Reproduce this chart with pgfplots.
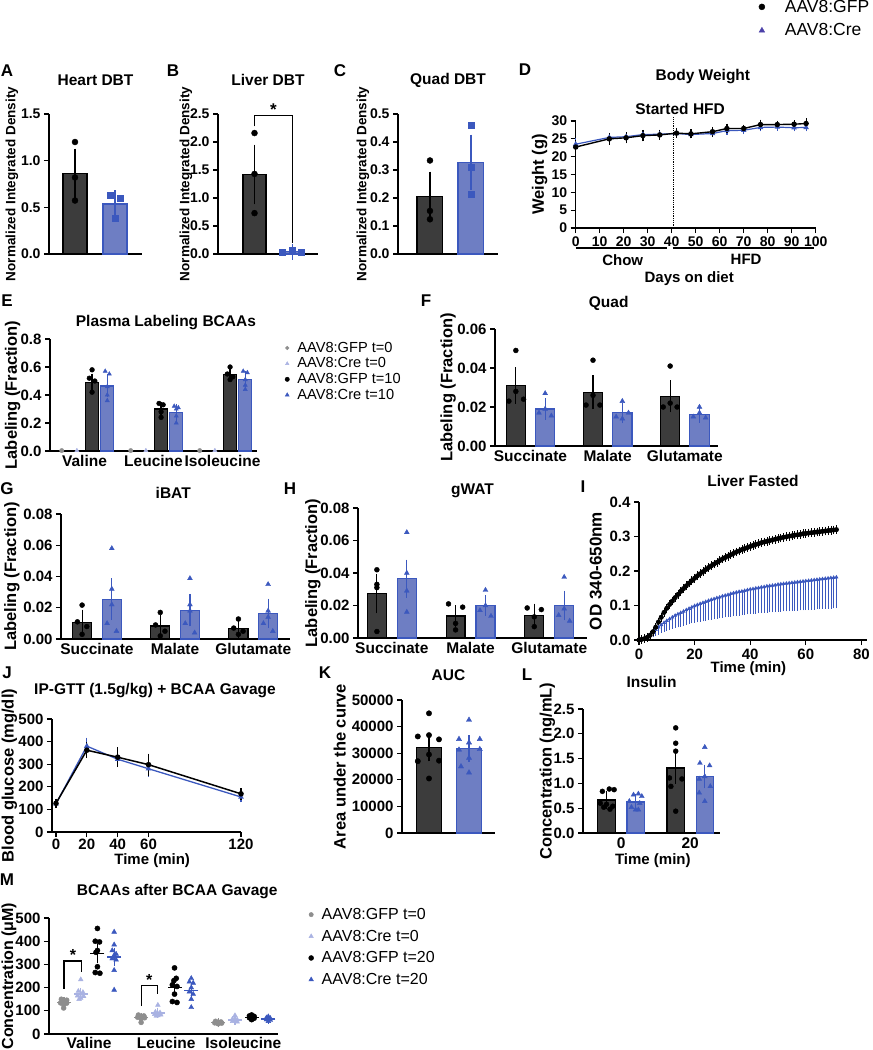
\documentclass[border=0pt]{standalone}
\usepackage{fontspec}
\setmainfont{Liberation Sans}
\usepackage{pgfplots}
\pgfplotsset{compat=1.18}
\usepackage{pgfplotstable}

\definecolor{gpdark}{HTML}{3C3C3C}
\definecolor{gpfill}{HTML}{6E7EC3}
\definecolor{gpblue}{HTML}{3B58BE}
\definecolor{gplight}{HTML}{A9B2E2}
\definecolor{gpgrey}{HTML}{8E8E8E}
\definecolor{gppurple}{HTML}{4B40A8}

\newcommand\fs[1]{\fontsize{#1}{#1}\selectfont}

\pgfplotsset{
 gp/.style={scale only axis, anchor=south west, axis x line*=bottom, axis y line*=left,
   axis line style={line width=1.3pt,-}, tick style={line width=1.3pt, black},
   tick align=outside, major tick length=5pt, clip=false, ymin=0,
   scaled y ticks=false, scaled x ticks=false,
   tick label style={font=\bfseries\fs{14}},
   title style={font=\bfseries\fs{15.5}, anchor=center},
   ylabel style={font=\bfseries\fs{16.5}, anchor=center},
   xlabel style={font=\bfseries\fs{15}, anchor=center},
   /pgf/number format/assume math mode=true},
 nox/.style={xtick style={draw=none}, xticklabel style={font=\bfseries\fs{15.5}, yshift=4pt}},
 tpos/.style 2 args={title style={at={(axis description cs:#1,#2)}}},
 ypos/.style={ylabel style={at={(axis description cs:#1,0.5)}}},
 xpos/.style 2 args={xlabel style={at={(axis description cs:#1,#2)}}},
 barK/.style={ybar, bar width=#1, bar shift=0pt, fill=gpdark, draw=black, line width=1.2pt},
 barB/.style={ybar, bar width=#1, bar shift=0pt, fill=gpfill, draw=gpblue, line width=1.2pt},
 eb/.style 2 args={/pgfplots/error bars/y dir=both, /pgfplots/error bars/y explicit,
   /pgfplots/error bars/error bar style={line width=1.2pt, #1},
   /pgfplots/error bars/error mark options={mark size=#2, line width=1.2pt, #1}},
 ptK/.style={only marks, mark=*, mark size=#1, black}, ptK/.default=2.5pt,
 ptS/.style={only marks, mark=square*, mark size=#1, gpblue}, ptS/.default=2.6pt,
 ptT/.style={only marks, mark=triangle*, mark size=#1, gpblue}, ptT/.default=2.8pt,
}

\pgfplotstableread{
t m
0 0.000
1 0.002
2 0.004
3 0.008
4 0.014
5 0.024
6 0.037
7 0.052
8 0.066
9 0.080
10 0.092
11 0.103
12 0.113
13 0.123
14 0.132
15 0.141
16 0.149
17 0.157
18 0.165
19 0.172
20 0.179
21 0.186
22 0.192
23 0.198
24 0.204
25 0.210
26 0.215
27 0.220
28 0.225
29 0.230
30 0.235
31 0.239
32 0.243
33 0.247
34 0.251
35 0.255
36 0.258
37 0.262
38 0.265
39 0.268
40 0.271
41 0.274
42 0.277
43 0.279
44 0.282
45 0.284
46 0.286
47 0.288
48 0.290
49 0.292
50 0.294
51 0.296
52 0.298
53 0.299
54 0.301
55 0.302
56 0.304
57 0.305
58 0.306
59 0.308
60 0.309
61 0.310
62 0.311
63 0.312
64 0.313
65 0.314
66 0.315
67 0.316
68 0.317
69 0.318
70 0.319
71 0.320
}\livergfp

\pgfplotstableread{
t m e
0 0.000 0.000
1 0.002 0.001
2 0.005 0.002
3 0.009 0.004
4 0.015 0.007
5 0.022 0.010
6 0.030 0.013
7 0.037 0.017
8 0.044 0.020
9 0.050 0.023
10 0.056 0.025
11 0.061 0.028
12 0.066 0.030
13 0.071 0.032
14 0.075 0.034
15 0.079 0.036
16 0.083 0.038
17 0.087 0.040
18 0.091 0.041
19 0.095 0.043
20 0.099 0.045
21 0.102 0.047
22 0.105 0.048
23 0.108 0.050
24 0.111 0.051
25 0.114 0.052
26 0.117 0.054
27 0.119 0.055
28 0.122 0.056
29 0.124 0.057
30 0.127 0.058
31 0.129 0.059
32 0.131 0.060
33 0.134 0.062
34 0.136 0.063
35 0.138 0.064
36 0.140 0.065
37 0.141 0.065
38 0.143 0.066
39 0.145 0.067
40 0.147 0.068
41 0.148 0.069
42 0.150 0.070
43 0.151 0.070
44 0.153 0.071
45 0.154 0.072
46 0.156 0.073
47 0.157 0.073
48 0.158 0.074
49 0.159 0.074
50 0.161 0.075
51 0.162 0.076
52 0.163 0.076
53 0.164 0.077
54 0.165 0.077
55 0.166 0.078
56 0.167 0.078
57 0.168 0.079
58 0.169 0.079
59 0.170 0.080
60 0.171 0.080
61 0.172 0.081
62 0.173 0.081
63 0.174 0.082
64 0.175 0.082
65 0.176 0.083
66 0.177 0.083
67 0.178 0.084
68 0.179 0.084
69 0.180 0.085
70 0.181 0.085
71 0.182 0.086
}\livercre

\begin{document}
\begin{tikzpicture}
\useasboundingbox (0,0) rectangle (873pt,-1050pt);

% panel letters
\foreach \t/\x/\y in {A/7/71, B/173/71, C/340/71, D/525/70, E/7/301, F/426/301, G/7/489, H/290/489, I/583/487, J/7/673, K/325/673, L/527/675, M/7/880}
  \node[font=\bfseries\fs{17}] at (\x pt,-\y pt) {\t};

% ---------- A ----------
\begin{axis}[gp, at={(49pt,-254pt)}, width=93pt, height=140pt, xmin=-0.65, xmax=1.675, ymax=1.5,
  xtick=\empty, ytick={0,0.5,1,1.5}, yticklabels={0.0,0.5,1.0,1.5},
  title={Heart DBT}, tpos={0.5}{1.2},
  ylabel={\bfseries\fs{13.5}Normalized Integrated Density}, ypos={-0.40}]
\addplot[barK=0.6, eb={black}{7pt}] coordinates {(0,0.864) +- (0,0.19)};
\addplot[barB=0.6, eb={gpblue}{7pt}] coordinates {(1,0.536) +- (0,0.07)};
\addplot[ptK=3pt] coordinates {(0,1.20) (0,0.82) (0,0.573)};
\addplot[ptS=3pt] coordinates {(0.87,0.625) (1.14,0.60) (1,0.383)};
\end{axis}

% ---------- B ----------
\begin{axis}[gp, at={(218pt,-254pt)}, width=100pt, height=140pt, xmin=-0.96, xmax=1.67, ymax=2.5,
  xtick=\empty, ytick={0,0.5,1,1.5,2,2.5}, yticklabels={0.0,0.5,1.0,1.5,2.0,2.5},
  title={Liver DBT}, tpos={0.5}{1.2},
  ylabel={\bfseries\fs{13.5}Normalized Integrated Density}, ypos={-0.32}]
\addplot[barK=0.6, eb={black}{7pt}] coordinates {(0,1.42) +- (0,0.41)};
\addplot[barB=0.6, eb={gpblue}{7pt}] coordinates {(1,0.04) +- (0,0.015)};
\addplot[ptK=3pt] coordinates {(0,2.16) (0,1.43) (0,0.73)};
\addplot[ptS=3pt] coordinates {(0.72,0.025) (1,0.07) (1.24,0.025)};
\draw[line width=1.2pt] (axis cs:0,2.28) -- (axis cs:0,2.47) -- (axis cs:1,2.47) -- (axis cs:1,0.19);
\node[font=\bfseries\fs{17}] at (axis cs:0.5,2.58) {*};
\end{axis}

% ---------- C ----------
\begin{axis}[gp, at={(398pt,-254pt)}, width=100pt, height=140pt, xmin=-0.78, xmax=1.66, ymax=0.5,
  xtick=\empty, ytick={0,0.1,0.2,0.3,0.4,0.5}, yticklabels={0.0,0.1,0.2,0.3,0.4,0.5},
  title={Quad DBT}, tpos={0.5}{1.2},
  ylabel={\bfseries\fs{13.5}Normalized Integrated Density}, ypos={-0.35}]
\addplot[barK=0.63, eb={black}{7pt}] coordinates {(0,0.204) +- (0,0.065)};
\addplot[barB=0.63, eb={gpblue}{7pt}] coordinates {(1,0.328) +- (0,0.073)};
\addplot[ptK=3pt] coordinates {(0,0.334) (0,0.154) (0,0.124)};
\addplot[ptS=3pt] coordinates {(1,0.46) (1,0.309) (1,0.214)};
\end{axis}

% ---------- D ----------
\begin{axis}[gp, at={(575.7pt,-228pt)}, width=240pt, height=107pt, xmin=0, xmax=100, ymax=30,
  xtick={0,10,20,30,40,50,60,70,80,90,100}, ytick={0,5,10,15,20,25,30},
  yticklabels={0,5,10,15,20,25,30}, xticklabels={0,10,20,30,40,50,60,70,80,90,100},
  title={Body Weight}, tpos={0.53}{1.355},
  ylabel={\bfseries\fs{16.5}Weight (g)}, ypos={-0.15},
  xlabel={Days on diet}, xpos={0.473}{-0.477},
  legend style={at={(axis description cs:0.75,2.17)}, anchor=north west, draw=none, fill=none,
    row sep=6pt, legend cell align=left, /tikz/every odd column/.append style={column sep=18pt}}]
\addlegendimage{only marks, mark=*, mark size=3pt, black}
\addlegendentry{\fs{17.5}AAV8:GFP}
\addlegendimage{only marks, mark=triangle*, mark size=3.3pt, gppurple}
\addlegendentry{\fs{17.5}AAV8:Cre}
\addplot[forget plot, gpblue, line width=1.2pt, mark=triangle*, mark size=2pt, eb={gpblue}{2.5pt}] coordinates {
 (0,23.5)+-(0,0.9) (14,25.4)+-(0,0.6) (21,25.6)+-(0,0.6) (28,26.2)+-(0,0.5) (35,26.3)+-(0,0.5)
 (42,26.5)+-(0,0.5) (48,26.2)+-(0,0.4) (57,26.5)+-(0,0.4) (63,27.3)+-(0,0.4) (70,27.4)+-(0,0.4)
 (77,28.2)+-(0,0.4) (84,28.3)+-(0,0.3) (91,28.1)+-(0,0.3) (96,28.2)+-(0,0.4)};
\addplot[forget plot, black, line width=1.4pt, mark=*, mark size=2pt, eb={black}{2.8pt}] coordinates {
 (0,22.7)+-(0,1.3) (14,25.0)+-(0,0.9) (21,25.3)+-(0,0.8) (28,25.9)+-(0,0.8) (35,26.1)+-(0,0.6)
 (42,26.6)+-(0,0.6) (48,26.4)+-(0,0.5) (57,27.0)+-(0,0.6) (63,27.9)+-(0,0.6) (70,27.9)+-(0,0.3)
 (77,29.0)+-(0,0.6) (84,29.0)+-(0,0.3) (91,29.1)+-(0,0.3) (96,29.3)+-(0,0.7)};
\draw[densely dotted, line width=0.8pt] (axis cs:40.8,0) -- (axis cs:40.8,31);
\node[font=\bfseries\fs{15.5}] at (axis description cs:0.435,1.112) {Started HFD};
\draw[line width=1.2pt] (axis cs:0,-5.6) -- (axis cs:38.2,-5.6);
\draw[line width=1.2pt] (axis cs:40.4,-5.6) -- (axis cs:99.3,-5.6);
\node[font=\bfseries\fs{15}] at (axis cs:19.6,-8.9) {Chow};
\node[font=\bfseries\fs{15}] at (axis cs:71,-8.9) {HFD};
\end{axis}

% ---------- E ----------
\begin{axis}[gp, nox, at={(50pt,-451pt)}, width=207pt, height=112pt, xmin=-0.5, xmax=2.5, ymax=0.8,
  xtick={0,1,2}, xticklabels={Valine,Leucine,Isoleucine},
  ytick={0,0.2,0.4,0.6,0.8}, yticklabels={0.0,0.2,0.4,0.6,0.8},
  yticklabel style={font=\bfseries\fs{15}},
  title={Plasma Labeling BCAAs}, tpos={0.56}{1.098},
  ylabel={\bfseries\fs{16.5}Labeling (Fraction)}, ypos={-0.18},
  legend style={at={(axis description cs:1.12,1.01)}, anchor=north west, draw=none, fill=none,
    row sep=0pt, legend cell align=left, /tikz/every odd column/.append style={column sep=6pt}}]
\addlegendimage{only marks, mark=*, mark size=1.8pt, gpgrey}
\addlegendentry{\fs{14.6}AAV8:GFP t=0}
\addlegendimage{only marks, mark=triangle*, mark size=2pt, gplight}
\addlegendentry{\fs{14.6}AAV8:Cre t=0}
\addlegendimage{only marks, mark=*, mark size=2.2pt, black}
\addlegendentry{\fs{14.6}AAV8:GFP t=10}
\addlegendimage{only marks, mark=triangle*, mark size=2.3pt, gpblue}
\addlegendentry{\fs{14.6}AAV8:Cre t=10}
\addplot[forget plot, barK=0.19, eb={black}{4.5pt}] coordinates {(0.11,0.49)+-(0,0.03) (1.11,0.30)+-(0,0.02) (2.11,0.545)+-(0,0.015)};
\addplot[forget plot, barB=0.19, eb={gpblue}{4.5pt}] coordinates {(0.33,0.465)+-(0,0.05) (1.33,0.275)+-(0,0.03) (2.33,0.51)+-(0,0.03)};
\addplot[forget plot, only marks, mark=*, mark size=2.2pt, gpgrey] coordinates {(-0.33,0.003) (0.67,0.003) (1.67,0.003)};
\addplot[forget plot, only marks, mark=triangle*, mark size=2.4pt, gplight] coordinates {(-0.11,0.003) (0.89,0.003) (1.89,0.003)};
\addplot[forget plot, ptK=2.4pt] coordinates {(0.11,0.58) (0.07,0.52) (0.15,0.50) (0.11,0.42)
  (1.08,0.34) (1.14,0.33) (1.11,0.28) (1.11,0.24) (2.11,0.60) (2.07,0.55) (2.15,0.53) (2.11,0.51)};
\addplot[forget plot, ptT=2.4pt] coordinates {(0.30,0.57) (0.36,0.55) (0.33,0.46) (0.33,0.40) (0.33,0.36)
  (1.30,0.32) (1.36,0.31) (1.33,0.30) (1.33,0.25) (1.33,0.20) (2.30,0.57) (2.36,0.56) (2.33,0.51) (2.33,0.47) (2.33,0.44)};
\end{axis}

% ---------- F ----------
\begin{axis}[gp, nox, at={(495pt,-446pt)}, width=223pt, height=117pt, xmin=-0.46, xmax=2.43, ymax=0.06,
  xtick={0,1,2}, xticklabels={Succinate,Malate,Glutamate},
  ytick={0,0.02,0.04,0.06}, yticklabels={0.00,0.02,0.04,0.06},
  yticklabel style={font=\bfseries\fs{15}},
  title={Quad}, tpos={0.51}{1.17},
  ylabel={\bfseries\fs{16.5}Labeling (Fraction)}, ypos={-0.21}]
\addplot[barK=0.25, eb={black}{6pt}] coordinates {(-0.19,0.031)+-(0,0.0063) (0.81,0.0275)+-(0,0.0057) (1.81,0.0255)+-(0,0.0052)};
\addplot[barB=0.25, eb={gpblue}{6pt}] coordinates {(0.19,0.019)+-(0,0.0025) (1.19,0.017)+-(0,0.0022) (2.19,0.0163)+-(0,0.0013)};
\addplot[ptK] coordinates {(-0.19,0.049) (-0.19,0.028) (-0.09,0.024) (-0.28,0.023)
  (0.81,0.044) (0.81,0.026) (0.72,0.021) (0.90,0.021) (1.81,0.041) (1.81,0.022) (1.72,0.020) (1.90,0.020)};
\addplot[ptT] coordinates {(0.19,0.027) (0.19,0.019) (0.11,0.017) (0.27,0.0155)
  (1.19,0.023) (1.27,0.017) (1.11,0.015) (1.19,0.014) (2.19,0.020) (2.19,0.017) (2.11,0.015) (2.27,0.0145)};
\end{axis}

% ---------- G ----------
\begin{axis}[gp, nox, at={(61pt,-639pt)}, width=229pt, height=125pt, xmin=-0.46, xmax=2.47, ymax=0.08,
  xtick={0,1,2}, xticklabels={Succinate,Malate,Glutamate},
  ytick={0,0.02,0.04,0.06,0.08}, yticklabels={0.00,0.02,0.04,0.06,0.08},
  yticklabel style={font=\bfseries\fs{15}},
  title={iBAT}, tpos={0.49}{1.12},
  ylabel={\bfseries\fs{16.5}Labeling (Fraction)}, ypos={-0.214}]
\addplot[barK=0.245, eb={black}{6pt}] coordinates {(-0.19,0.0107)+-(0,0.0042) (0.81,0.0083)+-(0,0.0032) (1.81,0.0068)+-(0,0.0026)};
\addplot[barB=0.245, eb={gpblue}{6pt}] coordinates {(0.19,0.0255)+-(0,0.0095) (1.19,0.0185)+-(0,0.0065) (2.19,0.0164)+-(0,0.0056)};
\addplot[ptK] coordinates {(-0.19,0.0217) (-0.25,0.011) (-0.13,0.008) (-0.19,0.003)
  (0.81,0.017) (0.75,0.009) (0.87,0.005) (0.81,0.002) (1.81,0.0128) (1.75,0.007) (1.87,0.005) (1.81,0.003)};
\addplot[ptT] coordinates {(0.19,0.058) (0.19,0.032) (0.19,0.022) (0.13,0.010) (0.25,0.005)
  (1.19,0.0388) (1.19,0.022) (1.19,0.018) (1.13,0.010) (1.25,0.004)
  (2.19,0.035) (2.19,0.018) (2.19,0.014) (2.13,0.010) (2.25,0.005)};
\end{axis}

% ---------- H ----------
\begin{axis}[gp, nox, at={(358pt,-638pt)}, width=229pt, height=130pt, xmin=-0.43, xmax=2.48, ymax=0.08,
  xtick={0,1,2}, xticklabels={Succinate,Malate,Glutamate},
  ytick={0,0.02,0.04,0.06,0.08}, yticklabels={0.00,0.02,0.04,0.06,0.08},
  yticklabel style={font=\bfseries\fs{15}},
  title={gWAT}, tpos={0.50}{1.085},
  ylabel={\bfseries\fs{16.5}Labeling (Fraction)}, ypos={-0.197}]
\addplot[barK=0.24, eb={black}{6pt}] coordinates {(-0.19,0.0274)+-(0,0.0085) (0.81,0.0135)+-(0,0.003) (1.81,0.014)+-(0,0.0035)};
\addplot[barB=0.24, eb={gpblue}{6pt}] coordinates {(0.19,0.0366)+-(0,0.008) (1.19,0.020)+-(0,0.0026) (2.19,0.020)+-(0,0.0055)};
\addplot[ptK] coordinates {(-0.19,0.042) (-0.19,0.033) (-0.19,0.031) (-0.19,0.004)
  (0.72,0.021) (0.90,0.019) (0.81,0.009) (0.81,0.005) (1.72,0.0185) (1.90,0.0175) (1.81,0.013) (1.81,0.007)};
\addplot[ptT] coordinates {(0.19,0.065) (0.19,0.040) (0.19,0.029) (0.19,0.016)
  (1.19,0.0295) (1.19,0.020) (1.12,0.017) (1.26,0.0135) (2.19,0.0375) (2.19,0.018) (2.12,0.014) (2.26,0.0105)};
\end{axis}

% ---------- I ----------
\begin{axis}[gp, at={(639pt,-640pt)}, width=228pt, height=138pt, xmin=0, xmax=82, ymax=0.4,
  xtick={0,20,40,60,80}, xticklabels={0,20,40,60,80},
  ytick={0,0.1,0.2,0.3,0.4}, yticklabels={0.0,0.1,0.2,0.3,0.4},
  tick label style={font=\bfseries\fs{15}},
  title={Liver Fasted}, tpos={0.50}{1.109},
  ylabel={\bfseries\fs{17}OD 340-650nm}, ypos={-0.19},
  xlabel={Time (min)}, xpos={0.48}{-0.21}]
\addplot[gpblue, line width=0.8pt, mark=triangle*, mark size=1.6pt,
  error bars/.cd, y dir=minus, y explicit, error bar style={line width=0.7pt},
  error mark options={mark size=1.4pt, line width=0.7pt}] table[x=t, y=m, y error=e] {\livercre};
\addplot[black, line width=0.8pt, mark=*, mark size=2.1pt,
  error bars/.cd, y dir=both, y fixed=0.008, error bar style={line width=0.7pt},
  error mark options={mark size=1.6pt, line width=0.7pt}] table[x=t, y=m] {\livergfp};
\end{axis}

% ---------- J ----------
\begin{axis}[gp, at={(52pt,-832pt)}, width=189pt, height=113pt, xmin=-2.6, xmax=120, ymax=500,
  xtick={0,20,40,60,120}, xticklabels={0,20,40,60,120},
  ytick={0,100,200,300,400,500}, yticklabels={0,100,200,300,400,500},
  tick label style={font=\bfseries\fs{15}}, xticklabel style={yshift=2pt},
  title={IP-GTT (1.5g/kg) + BCAA Gavage}, tpos={0.545}{1.195},
  ylabel={\bfseries\fs{16.5}Blood glucose (mg/dl)}, ypos={-0.225},
  xlabel={Time (min)}, xpos={0.53}{-0.25}]
\addplot[gpblue, line width=1.3pt, mark=triangle*, mark size=2pt, eb={gpblue}{3.5pt}] coordinates {
  (0,125)+-(0,5) (20,380)+-(0,22) (40,322)+-(0,18) (60,280)+-(0,20) (120,155)+-(0,8)};
\addplot[black, line width=1.5pt, mark=*, mark size=2pt, eb={black}{3.5pt}] coordinates {
  (0,127)+-(0,5) (20,362)+-(0,20) (40,331)+-(0,28) (60,298)+-(0,33) (120,169)+-(0,10)};
\end{axis}

% ---------- K ----------
\begin{axis}[gp, nox, at={(402pt,-833pt)}, width=93pt, height=133pt, xmin=-0.675, xmax=1.65, ymax=50000,
  xtick=\empty, ytick={0,10000,20000,30000,40000,50000},
  yticklabels={0,10000,20000,30000,40000,50000},
  yticklabel style={font=\bfseries\fs{15}},
  title={AUC}, tpos={0.5}{1.143},
  ylabel={\bfseries\fs{16.5}Area under the curve}, ypos={-0.67}]
\addplot[barK=0.62, eb={black}{7pt}] coordinates {(0,32200)+-(0,2600)};
\addplot[barB=0.62, eb={gpblue}{7pt}] coordinates {(1,31700)+-(0,2350)};
\addplot[ptK=2.7pt] coordinates {(0,45000) (-0.28,36300) (0,36800) (0.25,35200) (0,29500) (-0.28,27000) (0.25,27200) (0,20500)};
\addplot[ptT=3pt] coordinates {(1,42500) (0.75,35300) (1,34000) (1.27,35300) (0.75,31300) (1.27,31500) (1,28200) (0.8,25000) (1,22700)};
\end{axis}

% ---------- L ----------
\begin{axis}[gp, nox, at={(583pt,-833pt)}, width=137pt, height=124pt, xmin=-0.55, xmax=1.43, ymax=2.5,
  xtick={0,1}, xticklabels={0,20},
  ytick={0,0.5,1,1.5,2,2.5}, yticklabels={0.0,0.5,1.0,1.5,2.0,2.5},
  yticklabel style={font=\bfseries\fs{15}},
  title={Insulin}, tpos={0.50}{1.17},
  ylabel={\bfseries\fs{16.5}Concentration (ng/mL)}, ypos={-0.26},
  xlabel={Time (min)}, xpos={0.51}{-0.22}]
\addplot[barK=0.25, eb={black}{6pt}] coordinates {(-0.21,0.665)+-(0,0.07) (0.79,1.31)+-(0,0.2)};
\addplot[barB=0.25, eb={gpblue}{6pt}] coordinates {(0.21,0.625)+-(0,0.045) (1.21,1.14)+-(0,0.12)};
\addplot[ptK] coordinates {(-0.17,0.887) (-0.10,0.874) (-0.27,0.84) (-0.30,0.6) (-0.21,0.58) (-0.12,0.54) (-0.25,0.52) (-0.16,0.48)
  (0.79,2.12) (0.79,1.81) (0.79,1.65) (0.70,1.11) (0.88,1.09) (0.72,0.94) (0.79,0.44)};
\addplot[ptT] coordinates {(0.25,0.79) (0.18,0.77) (0.30,0.74) (0.12,0.64) (0.27,0.60) (0.15,0.52) (0.25,0.47) (0.21,0.47)
  (1.21,1.73) (1.14,1.41) (1.28,1.36) (1.21,1.14) (1.13,1.09) (1.29,0.94) (1.13,0.81) (1.21,0.64)};
\end{axis}

% ---------- M ----------
\begin{axis}[gp, nox, at={(49pt,-1034pt)}, width=229pt, height=116pt, xmin=-0.52, xmax=2.45, ymax=500,
  xtick={0,1,2}, xticklabels={Valine,Leucine,Isoleucine}, xticklabel style={yshift=1.5pt},
  ytick={0,100,200,300,400,500}, yticklabels={0,100,200,300,400,500},
  yticklabel style={font=\bfseries\fs{15}},
  title={BCAAs after BCAA Gavage}, tpos={0.56}{1.18},
  ylabel={\bfseries\fs{16}Concentration (μM)}, ypos={-0.175},
  legend style={at={(axis description cs:1.12,1.12)}, anchor=north west, draw=none, fill=none,
    row sep=5pt, legend cell align=left, /tikz/every odd column/.append style={column sep=6pt}}]
\addlegendimage{only marks, mark=*, mark size=2.2pt, gpgrey}
\addlegendentry{\fs{16}AAV8:GFP t=0}
\addlegendimage{only marks, mark=triangle*, mark size=2.5pt, gplight}
\addlegendentry{\fs{16}AAV8:Cre t=0}
\addlegendimage{only marks, mark=*, mark size=2.5pt, black}
\addlegendentry{\fs{16}AAV8:GFP t=20}
\addlegendimage{only marks, mark=triangle*, mark size=2.7pt, gpblue}
\addlegendentry{\fs{16}AAV8:Cre t=20}
\addplot[forget plot, only marks, mark=*, mark size=2.5pt, gpgrey] coordinates {
 (-0.36,150) (-0.29,146) (-0.33,140) (-0.37,134) (-0.29,133) (-0.33,127) (-0.33,112)
 (0.64,82) (0.71,78) (0.675,75) (0.63,72) (0.72,70) (0.675,66) (0.675,50)
 (1.64,55) (1.71,52) (1.675,50) (1.63,48) (1.72,47) (1.675,44)};
\addplot[forget plot, only marks, mark=-, mark size=7pt, line width=1.3pt, gpgrey, eb={gpgrey}{4pt}] coordinates {
 (-0.325,137)+-(0,6) (0.675,70)+-(0,4) (1.675,49)+-(0,2)};
\addplot[forget plot, only marks, mark=triangle*, mark size=2.7pt, gplight] coordinates {
 (-0.108,235) (-0.14,185) (-0.08,180) (-0.108,172) (-0.15,165) (-0.07,162) (-0.108,155) (-0.13,150)
 (0.892,125) (0.86,95) (0.92,92) (0.892,88) (0.85,85) (0.93,83) (0.892,80) (0.87,78)
 (1.892,80) (1.86,65) (1.92,62) (1.892,58) (1.86,55) (1.92,53) (1.892,57)};
\addplot[forget plot, only marks, mark=-, mark size=7pt, line width=1.3pt, gplight, eb={gplight}{4pt}] coordinates {
 (-0.108,173)+-(0,9) (0.892,91)+-(0,5) (1.892,61)+-(0,3)};
\addplot[forget plot, only marks, mark=*, mark size=2.6pt, black] coordinates {
 (0.108,455) (0.08,400) (0.135,397) (0.108,360) (0.09,352) (0.108,290) (0.08,265) (0.14,262)
 (1.108,285) (1.13,240) (1.10,230) (1.08,212) (1.14,205) (1.108,172) (1.08,140) (1.14,136)
 (2.108,82) (2.08,78) (2.14,76) (2.108,72) (2.08,70) (2.14,68) (2.108,65) (2.108,62)};
\addplot[forget plot, only marks, mark=triangle*, mark size=2.8pt, gpblue] coordinates {
 (0.325,440) (0.325,385) (0.30,360) (0.35,345) (0.325,340) (0.30,325) (0.35,320) (0.325,275) (0.325,190)
 (1.325,240) (1.30,225) (1.35,220) (1.325,200) (1.30,182) (1.35,172) (1.325,150) (1.325,115)
 (2.325,75) (2.30,70) (2.35,68) (2.325,65) (2.30,62) (2.35,60) (2.325,55)};
\addplot[forget plot, only marks, mark=-, mark size=7pt, line width=1.3pt, black, eb={black}{4pt}] coordinates {
 (0.108,347)+-(0,25) (1.108,200)+-(0,19) (2.108,72)+-(0,2.5)};
\addplot[forget plot, only marks, mark=-, mark size=7pt, line width=1.3pt, gpblue, eb={gpblue}{4pt}] coordinates {
 (0.325,332)+-(0,22) (1.325,188)+-(0,14) (2.325,65)+-(0,2.5)};
\draw[line width=1.2pt] (axis cs:-0.325,196) -- (axis cs:-0.325,315) -- (axis cs:-0.095,315) -- (axis cs:-0.095,268);
\node[font=\bfseries\fs{16}] at (axis cs:-0.21,340) {*};
\draw[line width=1.2pt] (axis cs:0.675,120) -- (axis cs:0.675,208) -- (axis cs:0.892,208) -- (axis cs:0.892,172);
\node[font=\bfseries\fs{16}] at (axis cs:0.78,233) {*};
\end{axis}

\end{tikzpicture}
\end{document}
